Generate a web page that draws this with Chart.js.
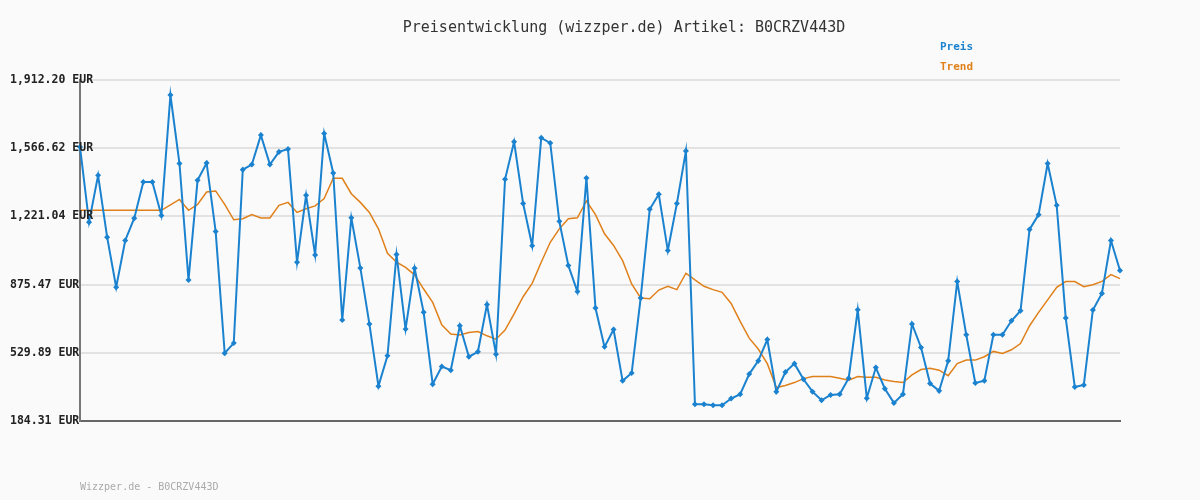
<!DOCTYPE html>
<html>
<head>
<meta charset="utf-8">
<script src="https://cdn.jsdelivr.net/npm/chart.js@4/dist/chart.umd.min.js"></script>
<style>
  html, body { margin: 0; padding: 0; background: #fafafa; }
  #wrap { width: 1200px; height: 500px; }
</style>
</head>
<body>
<div id="wrap"><canvas id="chart"></canvas></div>
<script>
// Preis pro Abruf (EUR)
const preis = [
  1573, 1192, 1429, 1116, 862, 1099, 1212, 1395, 1395, 1226,
  1836, 1489, 899, 1404, 1492, 1145, 528, 579, 1458, 1484,
  1633, 1484, 1548, 1562, 989, 1328, 1026, 1641, 1441, 696,
  1214, 960, 676, 361, 515, 1028, 650, 958, 735, 371,
  460, 442, 667, 510, 535, 774, 523, 1409, 1599, 1286,
  1072, 1619, 1593, 1196, 972, 840, 1416, 757, 560, 648,
  388, 427, 808, 1257, 1333, 1048, 1286, 1553, 269, 269,
  264, 264, 298, 320, 422, 489, 597, 333, 432, 475,
  396, 333, 289, 316, 320, 401, 748, 300, 455, 348,
  276, 320, 676, 557, 374, 337, 489, 891, 621, 377,
  388, 621, 621, 692, 743, 1155, 1230, 1489, 1277, 706,
  357, 367, 747, 831, 1099, 947
];
const trend = [
  1252, 1252, 1252, 1252, 1252, 1252, 1252, 1252, 1252, 1252,
  1280, 1307, 1252, 1282, 1345, 1350, 1282, 1204, 1209, 1230,
  1213, 1213, 1277, 1292, 1241, 1260, 1274, 1311, 1414, 1414,
  1336, 1292, 1241, 1158, 1034, 989, 963, 925, 853, 785,
  672, 625, 620, 633, 638, 616, 599, 645, 727, 814,
  882, 989, 1090, 1158, 1209, 1214, 1299, 1230, 1133, 1074,
  997, 879, 808, 804, 848, 867, 850, 933, 899, 867,
  850, 836, 780, 689, 604, 549, 475, 354, 364, 379,
  399, 410, 410, 410, 401, 391, 410, 406, 406, 392,
  384, 379, 418, 445, 452, 442, 414, 475, 493, 493,
  510, 537, 527, 545, 577, 667, 735, 798, 862, 891,
  891, 865, 875, 892, 926, 906
];
const labels = preis.map((_, i) => i + 1);
const yMin = 184.31;
const yMax = 1912.20;
const yStep = (yMax - yMin) / 5;
const yTicks = [0, 1, 2, 3, 4, 5].map(i => yMin + i * yStep);

const FONT = '"DejaVu Sans Mono", monospace';
const BLUE = '#1a82cf';
const ORANGE = '#e0801a';

const fmt = v => v.toLocaleString('en-US', { minimumFractionDigits: 2, maximumFractionDigits: 2 }) + ' EUR';

const texte = {
  id: 'texte',
  beforeDraw(chart) {
    const ctx = chart.ctx;
    ctx.save();
    ctx.fillStyle = '#fafafa';
    ctx.fillRect(0, 0, chart.width, chart.height);
    ctx.restore();
  },
  afterDraw(chart) {
    const ctx = chart.ctx;
    const y = chart.scales.y;
    ctx.save();
    ctx.textBaseline = 'middle';
    ctx.font = '15px ' + FONT;
    ctx.fillStyle = '#333';
    ctx.textAlign = 'center';
    ctx.fillText('Preisentwicklung (wizzper.de) Artikel: B0CRZV443D', 624, 28);
    ctx.textAlign = 'left';
    ctx.font = 'bold 11px ' + FONT;
    ctx.fillStyle = BLUE;
    ctx.fillText('Preis', 940, 47);
    ctx.fillStyle = ORANGE;
    ctx.fillText('Trend', 940, 67);
    // y-Beschriftung ragt ueber die Achse hinaus
    ctx.fillStyle = '#222';
    ctx.font = 'bold 11.5px ' + FONT;
    yTicks.forEach(v => ctx.fillText(fmt(v), 10, y.getPixelForValue(v)));
    ctx.font = '10px ' + FONT;
    ctx.fillStyle = '#aaa';
    ctx.fillText('Wizzper.de - B0CRZV443D', 80, 487);
    ctx.restore();
  }
};

new Chart(document.getElementById('chart'), {
  type: 'line',
  data: {
    labels: labels,
    datasets: [
      {
        label: 'Preis',
        data: preis,
        borderColor: BLUE,
        backgroundColor: BLUE,
        borderWidth: 2,
        pointStyle: 'rectRot',
        pointRadius: 1.6,
        pointHoverRadius: 1.6,
        tension: 0
      },
      {
        label: 'Trend',
        data: trend,
        borderColor: ORANGE,
        borderWidth: 1.5,
        pointRadius: 0,
        tension: 0
      }
    ]
  },
  options: {
    responsive: true,
    maintainAspectRatio: false,
    animation: false,
    layout: { padding: { top: 80, left: 10, right: 80, bottom: 79 } },
    plugins: {
      legend: { display: false },
      tooltip: { enabled: false }
    },
    scales: {
      x: {
        ticks: { display: false },
        grid: { display: false },
        border: { color: '#666', width: 2 },
        afterFit(scale) { scale.height = 0; }
      },
      y: {
        min: yMin,
        max: yMax,
        afterBuildTicks(scale) {
          scale.ticks = yTicks.map(v => ({ value: v }));
        },
        afterFit(scale) { scale.width = 70; },
        ticks: { display: false },
        grid: { color: '#e2e2e2', lineWidth: 2, drawTicks: false },
        border: { color: '#777', width: 2 }
      }
    }
  },
  plugins: [texte]
});
</script>
</body>
</html>
